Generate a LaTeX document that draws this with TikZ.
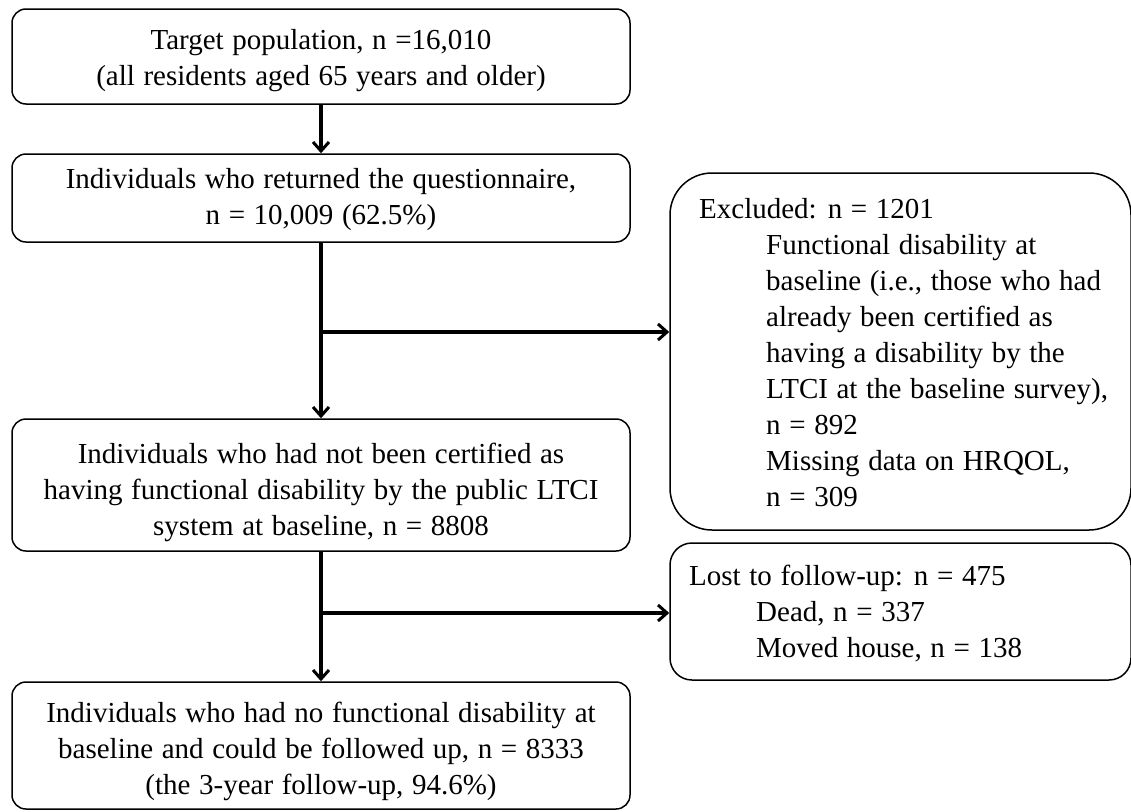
\documentclass[tikz,border=0pt]{standalone}
\usepackage{fontspec}
\setmainfont{Liberation Serif}
\usetikzlibrary{arrows.meta,calc}
\newcommand\flowfont{\fontsize{29}{36}\selectfont\spaceskip 8.6pt plus 2pt minus 1pt\relax}
\begin{document}
\begin{tikzpicture}[x=1pt,y=-1pt,
  every node/.style={font=\flowfont},
  mainbox/.style={draw, line width=1.5pt, rounded corners=14pt, minimum width=618pt, inner sep=0pt},
  maintext/.style={align=center, inner sep=0pt},
  sidebox/.style={draw, line width=1.5pt, minimum width=461pt, inner sep=0pt},
  sidetext/.style={align=left, inner sep=0pt, anchor=west},
  flow/.style={line width=3.2pt, -{Straight Barb[length=9pt,width=16pt,line width=3pt]}}
]
\useasboundingbox (0,0) rectangle (1131,811);
\fill[white] (0,0) rectangle (1131,811);

\node[mainbox, minimum height=95pt] (b1) at (321,56.5) {};
\node[maintext] (b1t) at (321,60.5)
  {Target population, n =16,010\\(all residents aged 65 years and older)};
\node[mainbox, minimum height=88pt] (b2) at (321,198) {};
\node[maintext] (b2t) at (321,200)
  {Individuals who returned the questionnaire,\\n = 10,009 (62.5\%)};
\node[mainbox, minimum height=132pt] (b3) at (321,485) {};
\node[maintext] (b3t) at (321,492)
  {Individuals who had not been certified as\\having functional disability by the public LTCI\\system at baseline, n = 8808};
\node[mainbox, minimum height=127pt] (b4) at (321,745.5) {};
\node[maintext] (b4t) at (321,751.5)
  {Individuals who had no functional disability at\\baseline and could be followed up, n = 8333\\(the 3-year follow-up, 94.6\%)};

\node[sidebox, rounded corners=42pt, minimum height=357pt] (excl) at (900.5,351.5) {};
\node[sidetext] (excltext) at (699,353)
  {Excluded: n = 1201\\
   \hspace*{67pt}Functional disability at\\
   \hspace*{67pt}baseline (i.e., those who had\\
   \hspace*{67pt}already been certified as\\
   \hspace*{67pt}having a disability by the\\
   \hspace*{67pt}LTCI at the baseline survey),\\
   \hspace*{67pt}n = 892\\
   \hspace*{67pt}Missing data on HRQOL,\\
   \hspace*{67pt}n = 309};

\node[sidebox, rounded corners=22pt, minimum height=137pt] (lost) at (900.5,611.5) {};
\node[sidetext] (losttext) at (689,614)
  {Lost to follow-up: n = 475\\
   \hspace*{67pt}Dead, n = 337\\
   \hspace*{67pt}Moved house, n = 138};

\coordinate (j1) at (321,332);
\coordinate (j2) at (321,613);

\draw[flow] (b1.south) -- (b2.north);
\draw[flow] (b2.south) -- (b3.north);
\draw[flow] (j1) -- (j1 -| excl.west);
\draw[flow] (b3.south) -- (b4.north);
\draw[flow] (j2) -- (j2 -| lost.west);
\end{tikzpicture}
\end{document}
